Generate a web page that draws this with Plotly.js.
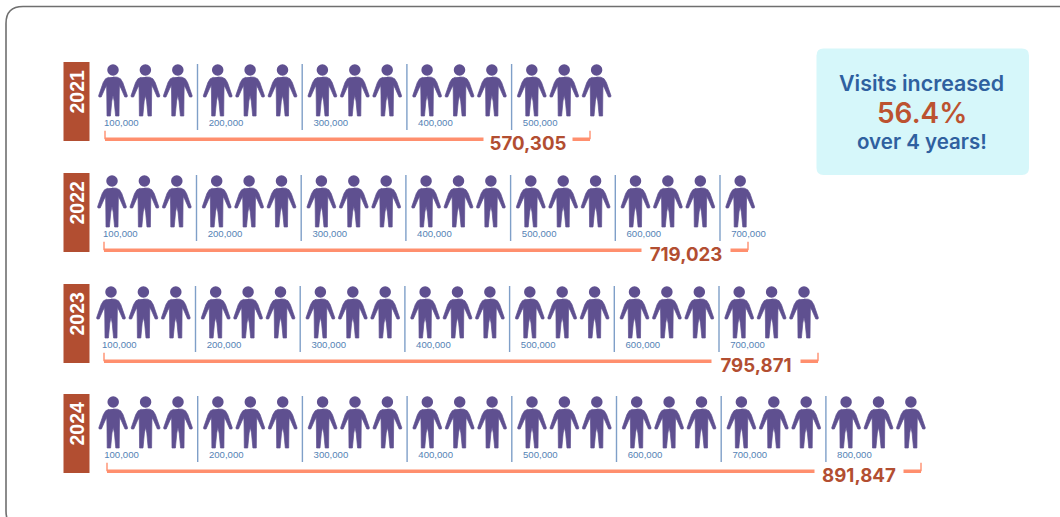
<!DOCTYPE html>
<html>
<head>
<meta charset="utf-8">
<script src="https://cdn.plot.ly/plotly-3.0.1.min.js"></script>
<style>html,body{margin:0;padding:0;background:#fff}#chart{width:1060px;height:517px}</style>
</head>
<body>
<div id="chart"></div>
<script>
// Annual visits, one row per year
const years = ['2021', '2022', '2023', '2024'];
const visits = [570305, 719023, 795871, 891847];
const figureCounts = [15, 19, 21, 24];
const tickLabels = ['100,000', '200,000', '300,000', '400,000', '500,000', '600,000', '700,000', '800,000'];
const calloutLines = ['Visits increased', '56.4%', 'over 4 years!'];

// Row geometry, in page pixels
const rowTop = [62, 173, 284, 394];
const rowFirstFigure = [113, 112, 111, 113.2];
const bracketStart = [105, 104, 104, 107];
const bracketLength = [485, 644, 714, 814];
const figurePitch = 32.4;
const groupPitch = 104.7;
const perGroup = 3;

const PURPLE = '#5f5090', BLUE = '#7f9fc8', TICK = '#5583b5', ORANGE = '#ff8f6e',
      RUST = '#b24e31', NAVY = '#2f609f';

// Right half of a standing figure, relative to (centre x, top of row)
const half = [[0, 15], [4.2, 15.2], [7.5, 16.8], [9.8, 20.5], [14.4, 33.8], [14, 35], [11.8, 35],
              [8.2, 26.8], [6.4, 23.6], [6.2, 34], [6, 54], [2.6, 54], [1.2, 39], [0, 33.5]];
const outline = half.concat(half.slice(1, -1).reverse().map(p => [-p[0], p[1]]));

const traces = [], shapes = [], annotations = [], axes = {};

function roundedRect(x0, y0, x1, y1, r) {
  return `M${x0 + r},${y0} L${x1 - r},${y0} Q${x1},${y0} ${x1},${y0 + r} L${x1},${y1 - r} Q${x1},${y1} ${x1 - r},${y1} ` +
         `L${x0 + r},${y1} Q${x0},${y1} ${x0},${y1 - r} L${x0},${y0 + r} Q${x0},${y0} ${x0 + r},${y0} Z`;
}

// Outer frame and callout panel
shapes.push({type: 'path', xref: 'x', yref: 'y', path: roundedRect(6, 6.5, 1085, 528, 17),
             line: {color: '#6f6f6f', width: 1.6}, layer: 'below'});
shapes.push({type: 'path', xref: 'x', yref: 'y', path: roundedRect(816.5, 48.5, 1029, 175, 7),
             fillcolor: '#d6f7fa', line: {width: 0}, layer: 'below'});

years.forEach((year, r) => {
  const top = rowTop[r];
  const bodyX = [], bodyY = [], headX = [], headY = [], divX = [], divY = [], lblX = [], lblY = [], lblT = [];

  for (let i = 0; i < figureCounts[r]; i++) {
    const group = Math.floor(i / perGroup), slot = i % perGroup;
    const cx = rowFirstFigure[r] + group * groupPitch + slot * figurePitch;
    outline.forEach(p => { bodyX.push(cx + p[0]); bodyY.push(top + p[1]); });
    bodyX.push(null); bodyY.push(null);
    headX.push(cx); headY.push(top + 8);
    if (slot === 0) {
      lblX.push(cx - 9); lblY.push(top + 61.5); lblT.push(tickLabels[group]);
      if (group > 0) { divX.push(cx - 20.2, cx - 20.2, null); divY.push(top + 2, top + 68, null); }
    }
  }

  // Year tag
  shapes.push({type: 'rect', xref: 'x', yref: 'y', x0: 63.5, x1: 89.5, y0: top, y1: top + 79,
               fillcolor: RUST, line: {width: 0}, layer: 'below'});
  annotations.push({xref: 'x', yref: 'y', x: 76.5, y: top + 30, text: year, textangle: -90, showarrow: false,
                    font: {family: 'Liberation Sans', size: 19.5, color: '#fff', weight: 700}});

  traces.push({x: divX, y: divY, mode: 'lines', line: {color: BLUE, width: 1.4}, hoverinfo: 'skip'});
  traces.push({x: bodyX, y: bodyY, mode: 'lines', fill: 'toself', fillcolor: PURPLE,
               line: {color: PURPLE, width: 0.7, simplify: false}, hoverinfo: 'skip'});
  traces.push({x: headX, y: headY, mode: 'markers', marker: {color: PURPLE, size: 11.5, line: {width: 0}}, hoverinfo: 'skip'});
  traces.push({x: lblX, y: lblY, mode: 'text', text: lblT, textposition: 'middle right',
               textfont: {family: 'Liberation Sans', size: 9.6, color: TICK}, hoverinfo: 'skip'});

  // Each bracket runs from zero to the year's total on its own scale
  const id = r + 2, scale = bracketLength[r] / visits[r], barY = top + 77.2;
  axes['xaxis' + id] = {overlaying: 'x', visible: false, fixedrange: true,
                        range: [-bracketStart[r] / scale, (1060 - bracketStart[r]) / scale]};
  traces.push({x: [0, visits[r]], y: [barY, barY], xaxis: 'x' + id, mode: 'lines',
               line: {color: ORANGE, width: 3.6}, hoverinfo: 'skip'});
  traces.push({x: [0, 0, null, visits[r], visits[r]], y: [barY, barY - 8.5, null, barY, barY - 8.5], xaxis: 'x' + id, mode: 'lines',
               line: {color: ORANGE, width: 1.4}, hoverinfo: 'skip'});
  annotations.push({xref: 'x' + id, yref: 'y', x: visits[r], xshift: -62, y: barY + 4.5, showarrow: false,
                    text: visits[r].toLocaleString('en-US'), width: 86, height: 19, bgcolor: '#fff',
                    font: {family: 'Inter', size: 18.7, color: RUST, weight: 700}});
});

// Callout text
const calloutY = [83, 113, 141], calloutSize = [21.4, 28, 20.5], calloutColor = [NAVY, '#bc5230', NAVY];
calloutLines.forEach((t, i) => annotations.push({
  xref: 'x', yref: 'y', x: 921.5, y: calloutY[i], text: t, showarrow: false,
  font: {family: 'Inter', size: calloutSize[i], color: calloutColor[i], weight: 600}
}));

Plotly.newPlot('chart', traces, Object.assign({
  width: 1060, height: 517, showlegend: false,
  margin: {l: 0, r: 0, t: 0, b: 0},
  paper_bgcolor: '#fff', plot_bgcolor: '#fff',
  xaxis: {range: [0, 1060], visible: false, fixedrange: true},
  yaxis: {range: [517, 0], visible: false, fixedrange: true},
  shapes, annotations
}, axes), {displayModeBar: false, staticPlot: true});
</script>
</body>
</html>
